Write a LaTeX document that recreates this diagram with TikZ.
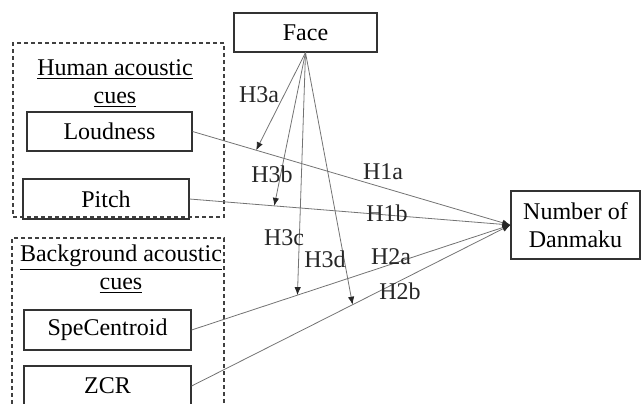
\documentclass[tikz,border=0pt]{standalone}
\usepackage{fontspec}
\setmainfont{Liberation Serif}
\usetikzlibrary{arrows.meta}

\begin{document}
\begin{tikzpicture}[
		x = 0.5pt,
		y = -0.5pt,
		font = \fontsize{12}{14}\selectfont,
		measure/.style = {
			draw = black!80,
			line width = 0.6pt,
			rectangle,
			inner sep = 0pt,
			minimum width = 83pt,
			minimum height = 20pt,
		},
		cluster/.style = {
			draw = black!75,
			line width = 0.6pt,
			dash pattern = on 2pt off 1.5pt,
			rectangle,
			inner sep = 0pt,
		},
		heading/.style = {
			align = center,
			inner sep = 0pt,
		},
		link/.style = {
			draw = black!55,
			line width = 0.4pt,
			-{Latex[length = 4pt, width = 3.2pt, color = black!85]},
		},
		hypothesis/.style = {
			inner sep = 0pt,
			text = black!85,
		}
	]
	\useasboundingbox (0,0) rectangle (642,403);
	\clip (0,0) rectangle (642,403);

	\node [cluster, minimum width = 105.5pt, minimum height = 87pt] (humanBox) at (118.5,130) {};
	\node [cluster, minimum width = 106pt, minimum height = 92pt] (bgBox) at (118,330) {};

	\node [heading] (humanTitle) at (115,84) {\underline{Human acoustic}\\\underline{cues}};
	\node [heading] (bgTitle) at (121,269) {\underline{Background acoustic}\\\underline{cues}};

	\node [measure, minimum width = 71.5pt, minimum height = 19.5pt] (face) at (305.5,32.5) {Face};
	\node [measure, minimum width = 82.5pt, minimum height = 19.5pt] (loudness) at (109.5,131.5) {Loudness};
	\node [measure] (pitch) at (106,199) {Pitch};
	\node [measure, minimum width = 83.5pt] (speCentroid) at (107.5,330) {SpeCentroid};
	\node [measure, minimum width = 83.5pt] (zcr) at (107.5,386) {ZCR};
	\node [measure, align = center, minimum width = 64.5pt, minimum height = 34pt] (danmaku) at (575.5,225) {Number of\\Danmaku};

	\draw [link] (loudness.east) to coordinate[pos = 0.2] (onLoudness) (danmaku.west);
	\draw [link] (pitch.east) to coordinate[pos = 0.264] (onPitch) (danmaku.west);
	\draw [link] (speCentroid.east) to coordinate[pos = 0.332] (onSpeCentroid) (danmaku.west);
	\draw [link] (zcr.east) to coordinate[pos = 0.505] (onZcr) (danmaku.west);

	\draw [link] (face.south) to (onLoudness);
	\draw [link] (face.south) to (onPitch);
	\draw [link] (face.south) to (onSpeCentroid);
	\draw [link] (face.south) to (onZcr);

	\node [hypothesis] (h1a) at (383,172) {H1a};
	\node [hypothesis] (h1b) at (387,213) {H1b};
	\node [hypothesis] (h2a) at (391,257) {H2a};
	\node [hypothesis] (h2b) at (400,291) {H2b};
	\node [hypothesis] (h3a) at (259,95) {H3a};
	\node [hypothesis] (h3b) at (272,174) {H3b};
	\node [hypothesis] (h3c) at (284,238) {H3c};
	\node [hypothesis] (h3d) at (325,259) {H3d};
\end{tikzpicture}
\end{document}
